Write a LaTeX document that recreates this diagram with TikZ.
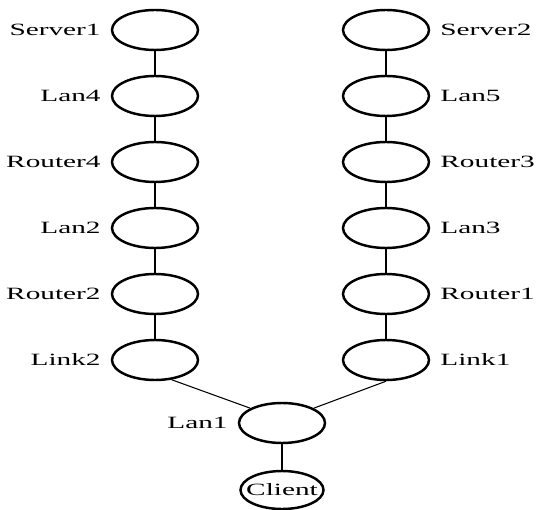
\documentclass[tikz,border=0pt]{standalone}
\usepackage{fontspec}
\setmainfont{Liberation Serif}
\usetikzlibrary{shapes.geometric, positioning}
\newcommand{\wlbl}[1]{\scalebox{1.7}[1]{#1}}
\tikzstyle{netnode} = [ellipse, minimum width=1.72cm, minimum height=0.8cm, inner sep=0pt, draw=black, line width=1.4pt]
\tikzstyle{clientnode} = [ellipse, minimum width=1.66cm, minimum height=0.76cm, inner sep=0pt, draw=black, line width=1.4pt, font=\fontsize{9.8}{11}\selectfont]
\tikzstyle{wire} = [line width=1.2pt]
\tikzstyle{thinwire} = [line width=0.6pt]
\tikzstyle{every label} = [font=\fontsize{9.8}{11}\selectfont, label distance=0.08cm]

\begin{document}
\begin{tikzpicture}[node distance=1.32cm]
		\useasboundingbox (0,0) rectangle (10.86,-10.2);
		% left branch
		\node (srv1) [netnode, label=left:\wlbl{Server1}] at (3.1,-0.6) {};
		\node (lan4) [netnode, below of=srv1, label=left:\wlbl{Lan4}] {};
		\node (rtr4) [netnode, below of=lan4, label=left:\wlbl{Router4}] {};
		\node (lan2) [netnode, below of=rtr4, label=left:\wlbl{Lan2}] {};
		\node (rtr2) [netnode, below of=lan2, label=left:\wlbl{Router2}] {};
		\node (lnk2) [netnode, below of=rtr2, label=left:\wlbl{Link2}] {};
		% right branch
		\node (srv2) [netnode, label=right:\wlbl{Server2}] at (7.72,-0.6) {};
		\node (lan5) [netnode, below of=srv2, label=right:\wlbl{Lan5}] {};
		\node (rtr3) [netnode, below of=lan5, label=right:\wlbl{Router3}] {};
		\node (lan3) [netnode, below of=rtr3, label=right:\wlbl{Lan3}] {};
		\node (rtr1) [netnode, below of=lan3, label=right:\wlbl{Router1}] {};
		\node (lnk1) [netnode, below of=rtr1, label=right:\wlbl{Link1}] {};
		% client side
		\node (lan1) [netnode, label=left:\wlbl{Lan1}] at (5.64,-8.46) {};
		\node (clnt) [clientnode, below of=lan1, yshift=-0.02cm] {\makebox[0pt]{\wlbl{Client}}};

		\draw [wire] (srv1) -- (lan4) -- (rtr4) -- (lan2) -- (rtr2) -- (lnk2);
		\draw [wire] (srv2) -- (lan5) -- (rtr3) -- (lan3) -- (rtr1) -- (lnk1);
		\draw [thinwire] (lnk2.-50) -- (lan1.155);
		\draw [thinwire] (lnk1.south) -- (lan1.25);
		\draw [wire] (lan1) -- (clnt);
	\end{tikzpicture}
\end{document}
